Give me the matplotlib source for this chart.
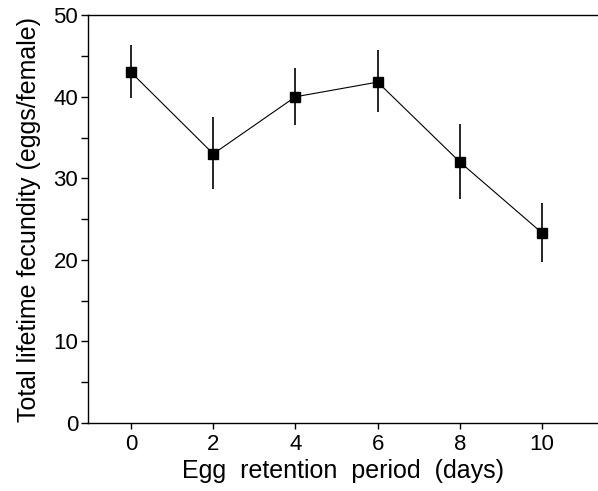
import numpy as np
from matplotlib import pyplot as plt
from matplotlib.ticker import MultipleLocator

plt.rcParams['font.family'] = ['Liberation Sans', 'DejaVu Sans']

# egg retention period (days) and total lifetime fecundity
days = [0, 2, 4, 6, 8, 10]
fecundity = [43.0, 33.0, 40.0, 41.8, 32.0, 23.3]
err_upper = [3.3, 4.5, 3.5, 3.9, 4.7, 3.7]
err_lower = [3.2, 4.3, 3.5, 3.7, 4.5, 3.6]

fig = plt.figure(figsize=(5.98, 4.91), dpi=100)
ax = fig.add_axes([0.147, 0.1385, 0.853, 0.8305])

ax.errorbar(days, fecundity, yerr=[err_lower, err_upper], fmt='s-', color='black',
            lw=0.8, elinewidth=1.2, capsize=0, ms=7, mfc='black', mec='black')

ax.set_xlim(-1.05, 11.36)
ax.set_ylim(0, 50)
ax.set_xticks([0, 2, 4, 6, 8, 10])
ax.yaxis.set_major_locator(MultipleLocator(10))
ax.yaxis.set_minor_locator(MultipleLocator(5))

ax.spines['right'].set_visible(False)
for s in ['left', 'bottom', 'top']:
    ax.spines[s].set_linewidth(1.0)

ax.tick_params(axis='y', which='both', direction='out', length=5, width=1.0, labelsize=16, pad=2)
ax.tick_params(axis='x', which='major', direction='out', length=4, width=1.0, labelsize=16, pad=4)

ax.set_xlabel("Egg  retention  period  (days)", fontsize=18, labelpad=3)
ax.set_ylabel("Total lifetime fecundity (eggs/female)", fontsize=18, labelpad=9)

plt.savefig("out.png", dpi=100)
